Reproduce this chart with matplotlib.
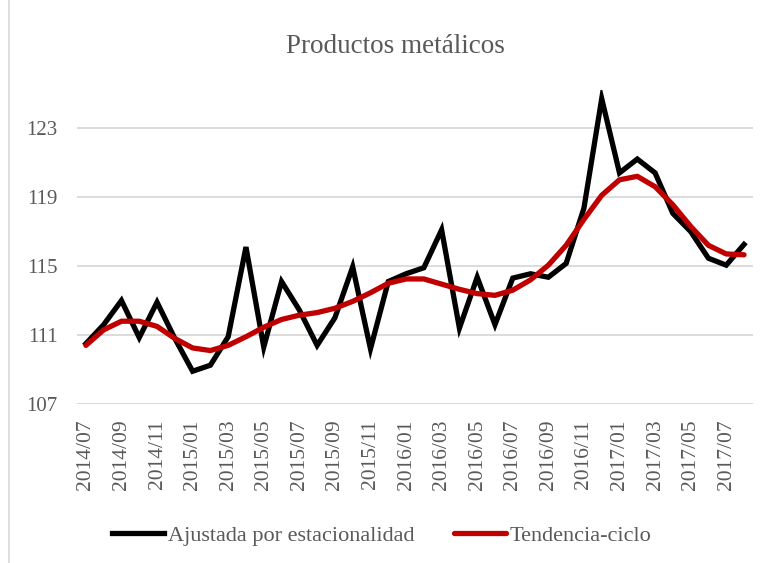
import matplotlib.pyplot as plt
from matplotlib.lines import Line2D

months = []
for y in range(2014, 2018):
    for m in range(1, 13):
        if (y == 2014 and m < 7) or (y == 2017 and m > 8):
            continue
        months.append(f"{y}/{m:02d}")

ajustada = [110.5, 111.6, 113.0, 110.85, 112.9, 110.8, 108.9, 109.25, 110.9, 116.1,
            110.3, 114.1, 112.45, 110.4, 112.0, 114.95, 110.2, 114.1, 114.55, 114.9,
            117.1, 111.4, 114.35, 111.6, 114.3, 114.55, 114.35, 115.15, 118.35, 124.7,
            120.4, 121.2, 120.4, 118.05, 117.0, 115.45, 115.05, 116.25]
tendencia = [110.4, 111.3, 111.8, 111.8, 111.5, 110.8, 110.25, 110.1, 110.4, 110.9,
             111.45, 111.9, 112.15, 112.3, 112.55, 112.95, 113.45, 114.0, 114.25, 114.25,
             113.95, 113.65, 113.4, 113.3, 113.6, 114.2, 115.05, 116.2, 117.7, 119.1,
             120.0, 120.2, 119.6, 118.55, 117.3, 116.2, 115.7, 115.65]
yticks = [107, 111, 115, 119, 123]

gray = "#595959"
font = "Liberation Serif"

fig = plt.figure(figsize=(7.73, 5.63), dpi=100)
ax = fig.add_axes([0.0996, 0.2824, 0.8744, 0.5576])

x = list(range(len(months)))
ax.plot(x, ajustada, color="black", lw=3.8, solid_joinstyle="miter",
        label="Ajustada por estacionalidad")
ax.plot(x, tendencia, color="#C00000", lw=3.8, solid_capstyle="round",
        label="Tendencia-ciclo")

ax.set_xlim(-0.5, len(months) - 0.5)
ax.set_ylim(107, 125.2)
ax.set_yticks(yticks)
ax.set_yticklabels([str(v) for v in yticks], fontfamily=font, fontsize=15, color=gray)
ax.set_xticks(x[::2])
ax.set_xticklabels(months[::2], rotation=90, fontfamily=font, fontsize=15.5, color=gray)
ax.tick_params(length=0)
ax.tick_params(axis="x", pad=11)
ax.tick_params(axis="y", pad=14)
ax.grid(axis="y", color="#D9D9D9", lw=1.3)
ax.set_axisbelow(True)
for s in ax.spines.values():
    s.set_visible(False)

fig.text(0.511, 0.918, "Productos metálicos", ha="center", va="center",
         fontfamily=font, fontsize=19.5, color=gray)

fig.legend(loc="center", bbox_to_anchor=(0.494, 0.048), ncol=2, frameon=False,
           prop={"family": font, "size": 16}, labelcolor=gray,
           handlelength=2.35, handletextpad=0.15, columnspacing=1.8)

fig.add_artist(Line2D([8.5 / 773, 8.5 / 773], [0, 1], transform=fig.transFigure,
                      color="#D9D9D9", lw=1.2))

fig.savefig("out.png", dpi=100)
